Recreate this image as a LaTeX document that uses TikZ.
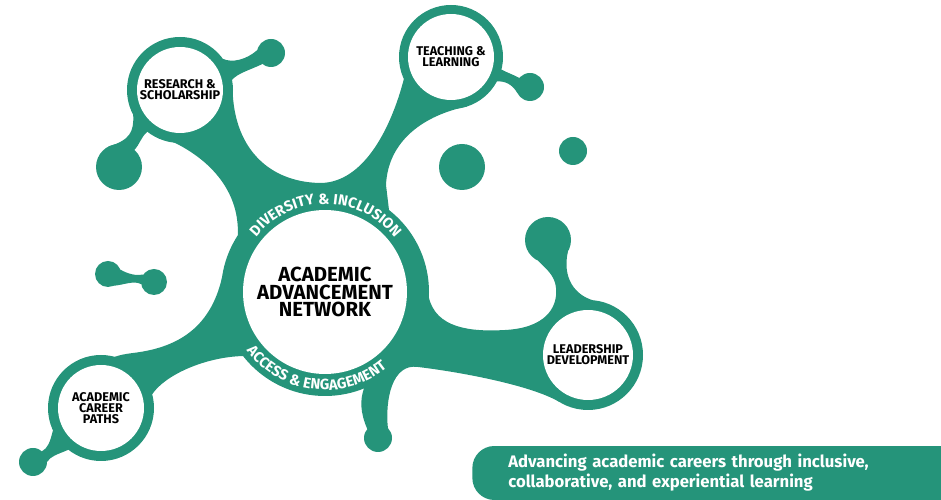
\documentclass[tikz,border=0pt]{standalone}
\usepackage{fontspec}
\setmainfont{Fira Sans}
\usepackage{tikz}
\usetikzlibrary{backgrounds}
\usetikzlibrary{calc}
\usetikzlibrary{decorations.text}
\definecolor{aangreen}{HTML}{25947A}
\newcommand{\ringfont}{\color{white}\bfseries\fontsize{8.4}{10}\selectfont}

\begin{document}
\begin{tikzpicture}[x=0.02cm, y=0.02cm,
	hub/.style={circle, fill=white, inner sep=0pt, minimum size=1.72cm,
		align=center, font=\bfseries\fontsize{7.2}{6.4}\selectfont},
	core/.style={circle, fill=white, inner sep=0pt, minimum size=3.28cm,
		align=center, font=\bfseries\fontsize{11.6}{10.2}\selectfont},
	banner/.style={fill=aangreen, text=white, rounded corners=0.44cm, anchor=west,
		minimum height=1.08cm, inner xsep=0.72cm, text width=8.54cm,
		align=left, font=\bfseries\fontsize{9.5}{11.4}\selectfont}]
	\useasboundingbox (0,0) rectangle (941,500);

	\node[core] (aan) at (325,208) {ACADEMIC\\ADVANCEMENT\\NETWORK};
	\node[hub] (rs) at (180,410) {RESEARCH \&\\SCHOLARSHIP};
	\node[hub] (tl) at (451,443) {TEACHING \&\\LEARNING};
	\node[hub, minimum size=1.8cm] (ld) at (588,145) {LEADERSHIP\\DEVELOPMENT};
	\node[hub] (cp) at (101,92) {ACADEMIC\\CAREER\\PATHS};

	\coordinate (rsdot) at (271,447);
	\coordinate (rsdrop) at (119,333);
	\coordinate (tldot) at (530,413);
	\coordinate (freeblob) at (462,333);
	\coordinate (freedot) at (573,349);
	\coordinate (lddrop) at (548,260);
	\coordinate (pairl) at (108,226);
	\coordinate (pairr) at (154,218);
	\coordinate (cpdot) at (33,38);
	\coordinate (aandot) at (378,62);

	\begin{scope}[on background layer]
		\fill[aangreen] (aan.center) circle (104);
		\foreach \n/\r in {rs/53, tl/52, ld/55, cp/53}{
			\fill[aangreen] (\n.center) circle (\r);
		}
		\foreach \c/\r in {rsdot/14, rsdrop/23, tldot/14, freeblob/23, freedot/14,
			lddrop/23, pairl/13, pairr/13, cpdot/14, aandot/14}{
			\fill[aangreen] (\c) circle (\r);
		}

		\fill[aangreen]
			($(rs.center)+(232:53)$) .. controls (205,350) and (240,312) .. ($(aan.center)+(147:104)$)
			-- (aan.center) -- (389,290) -- (386,315)
			.. controls (388,360) and (425,385) .. ($(tl.center)+(-72:52)$)
			-- (tl.center) -- ($(tl.center)+(205:52)$)
			.. controls (392,375) and (365,317) .. (320,317)
			.. controls (270,318) and (236,350) .. ($(rs.center)+(-5:53)$)
			-- (rs.center) -- cycle;

		\fill[aangreen]
			($(rs.center)+(36:53)$) .. controls (232,437) and (246,440) .. ($(rsdot)+(168:14)$)
			-- (rsdot) -- ($(rsdot)+(232:14)$)
			.. controls (250,430) and (238,427) .. ($(rs.center)+(11:53)$)
			-- (rs.center) -- cycle;

		\fill[aangreen]
			($(rs.center)+(208:53)$) .. controls (134,368) and (130,360) .. ($(rsdrop)+(118:23)$)
			-- (rsdrop) -- ($(rsdrop)+(48:23)$)
			.. controls (140,356) and (141,363) .. ($(rs.center)+(232:53)$)
			-- (rs.center) -- cycle;

		\fill[aangreen]
			($(tl.center)+(-14:52)$) .. controls (508,427) and (514,425) .. ($(tldot)+(140:14)$)
			-- (tldot) -- ($(tldot)+(205:14)$)
			.. controls (512,416) and (505,419) .. ($(tl.center)+(-28:52)$)
			-- (tl.center) -- cycle;

		\fill[aangreen]
			($(aan.center)+(-3:104)$) .. controls (436,172) and (470,168) .. (505,170)
			.. controls (545,172) and (558,192) .. (556,212)
			.. controls (555,225) and (545,232) .. ($(lddrop)+(245:23)$)
			-- (lddrop) -- ($(lddrop)+(-30:23)$)
			.. controls (562,222) and (575,205) .. ($(ld.center)+(85:55)$)
			-- (ld.center) -- ($(ld.center)+(238:55)$)
			.. controls (530,115) and (460,128) .. (418,133)
			.. controls (392,137) and (385,100) .. ($(aandot)+(45:14)$)
			-- (aandot) -- ($(aandot)+(140:14)$)
			.. controls (360,88) and (360,100) .. ($(aan.center)+(-68:104)$)
			-- (aan.center) -- cycle;

		\fill[aangreen]
			($(aan.center)+(172:104)$) .. controls (210,170) and (175,152) .. (133,147)
			.. controls (125,146) and (120,145) .. ($(cp.center)+(75:53)$)
			-- (cp.center) -- ($(cp.center)+(15:53)$)
			.. controls (165,125) and (205,143) .. ($(aan.center)+(218:104)$)
			-- (aan.center) -- cycle;

		\fill[aangreen]
			($(cp.center)+(205:53)$) .. controls (50,58) and (48,52) .. ($(cpdot)+(50:14)$)
			-- (cpdot) -- ($(cpdot)+(0:14)$)
			.. controls (51,44) and (56,45) .. ($(cp.center)+(232:53)$)
			-- (cp.center) -- cycle;

		\fill[aangreen]
			($(pairl)+(20:13)$) .. controls (128,226) and (136,224) .. ($(pairr)+(145:13)$)
			-- (pairr) -- ($(pairr)+(190:13)$)
			.. controls (134,220) and (124,215) .. ($(pairl)+(-65:13)$)
			-- (pairl) -- cycle;
	\end{scope}

	\path[decorate, decoration={text along path, text align=center,
		text={|\ringfont|DIVERSITY {\&} INCLUSION}}]
		($(aan.center)+(179.5:88)$) arc[start angle=179.5, end angle=-0.5, radius=88];
	\path[decorate, decoration={text along path, text align=center,
		text={|\ringfont|ACCESS {\&} ENGAGEMENT}}]
		($(aan.center)+(173:98)$) arc[start angle=173, end angle=353, radius=98];

	\node[banner] (motto) at (472,27) {Advancing academic careers through inclusive,\\collaborative, and experiential learning};
\end{tikzpicture}
\end{document}
